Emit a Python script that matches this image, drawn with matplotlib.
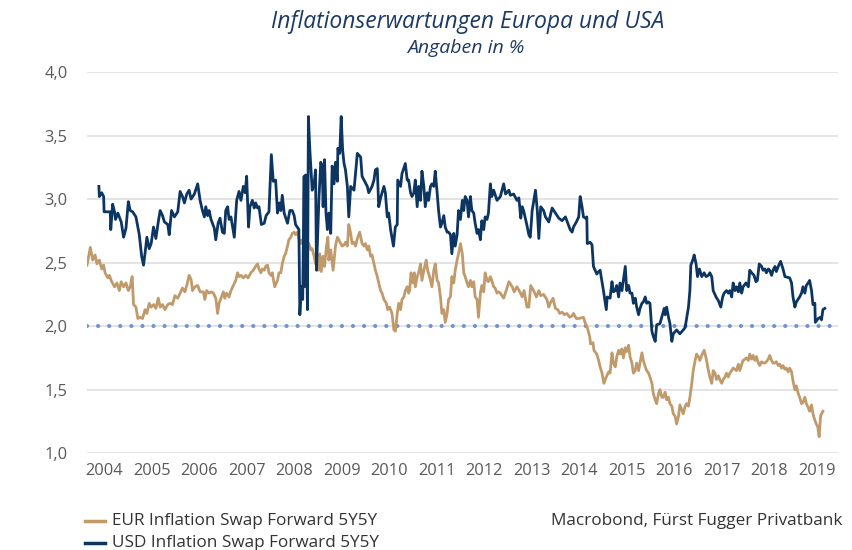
#!/usr/bin/env python3
# -*- coding: utf-8 -*-
"""
Inflationserwartungen Europa und USA - 5Y5Y inflation swap forwards
"""

import matplotlib
matplotlib.use("Agg")
import matplotlib.pyplot as plt

############################## Data ##################################
# values (decimal years, percent)
usd_years = [
    2004.39, 2004.40, 2004.45, 2004.49, 2004.50, 2004.63, 2004.64, 2004.68, 2004.72, 2004.74,
    2004.79, 2004.82, 2004.86, 2004.91, 2004.96, 2005.01, 2005.05, 2005.10, 2005.17, 2005.24,
    2005.29, 2005.33, 2005.37, 2005.40, 2005.45, 2005.49, 2005.54, 2005.59, 2005.64, 2005.68,
    2005.73, 2005.77, 2005.84, 2005.87, 2005.92, 2005.98, 2006.05, 2006.10, 2006.15, 2006.19,
    2006.24, 2006.29, 2006.33, 2006.40, 2006.47, 2006.52, 2006.57, 2006.61, 2006.64, 2006.68,
    2006.71, 2006.75, 2006.82, 2006.85, 2006.90, 2006.94, 2006.99, 2007.03, 2007.06, 2007.10,
    2007.13, 2007.17, 2007.24, 2007.29, 2007.34, 2007.38, 2007.43, 2007.47, 2007.50, 2007.54,
    2007.57, 2007.62, 2007.66, 2007.69, 2007.73, 2007.76, 2007.81, 2007.87, 2007.91, 2007.97,
    2008.02, 2008.06, 2008.11, 2008.15, 2008.19, 2008.22, 2008.25, 2008.29, 2008.36, 2008.41,
    2008.46, 2008.50, 2008.53, 2008.60, 2008.62, 2008.65, 2008.68, 2008.71, 2008.72, 2008.74,
    2008.78, 2008.80, 2008.83, 2008.88, 2008.92, 2008.95, 2008.97, 2009.02, 2009.06, 2009.09,
    2009.11, 2009.14, 2009.17, 2009.20, 2009.23, 2009.27, 2009.30, 2009.34, 2009.37, 2009.41,
    2009.42, 2009.46, 2009.49, 2009.52, 2009.55, 2009.58, 2009.62, 2009.65, 2009.69, 2009.76,
    2009.83, 2009.90, 2009.93, 2009.97, 2010.04, 2010.07, 2010.14, 2010.18, 2010.21, 2010.25,
    2010.28, 2010.32, 2010.39, 2010.42, 2010.46, 2010.49, 2010.53, 2010.59, 2010.63, 2010.67,
    2010.68, 2010.74, 2010.77, 2010.84, 2010.88, 2010.91, 2010.95, 2010.98, 2011.02, 2011.05,
    2011.09, 2011.12, 2011.16, 2011.19, 2011.23, 2011.26, 2011.30, 2011.33, 2011.37, 2011.40,
    2011.44, 2011.47, 2011.51, 2011.54, 2011.58, 2011.61, 2011.65, 2011.68, 2011.72, 2011.75,
    2011.79, 2011.82, 2011.86, 2011.89, 2011.93, 2011.96, 2012.00, 2012.04, 2012.07, 2012.10,
    2012.14, 2012.17, 2012.21, 2012.24, 2012.28, 2012.31, 2012.35, 2012.38, 2012.42, 2012.45,
    2012.49, 2012.52, 2012.56, 2012.59, 2012.63, 2012.66, 2012.70, 2012.77, 2012.84, 2012.91,
    2012.95, 2013.02, 2013.05, 2013.12, 2013.19, 2013.23, 2013.27, 2013.30, 2013.33, 2013.39,
    2013.44, 2013.47, 2013.51, 2013.58, 2013.62, 2013.65, 2013.69, 2013.75, 2013.79, 2013.86,
    2013.93, 2014.00, 2014.07, 2014.14, 2014.21, 2014.25, 2014.31, 2014.35, 2014.38, 2014.44,
    2014.49, 2014.52, 2014.56, 2014.59, 2014.63, 2014.66, 2014.67, 2014.73, 2014.77, 2014.80,
    2014.87, 2014.91, 2014.94, 2015.01, 2015.07, 2015.09, 2015.15, 2015.19, 2015.22, 2015.26,
    2015.29, 2015.33, 2015.36, 2015.40, 2015.43, 2015.47, 2015.50, 2015.54, 2015.57, 2015.61,
    2015.64, 2015.68, 2015.71, 2015.75, 2015.78, 2015.82, 2015.85, 2015.89, 2015.92, 2015.96,
    2015.99, 2016.03, 2016.06, 2016.10, 2016.13, 2016.20, 2016.26, 2016.29, 2016.31, 2016.34,
    2016.38, 2016.41, 2016.45, 2016.48, 2016.55, 2016.62, 2016.69, 2016.73, 2016.80, 2016.83,
    2016.85, 2016.89, 2016.92, 2016.96, 2016.99, 2017.03, 2017.08, 2017.13, 2017.17, 2017.22,
    2017.25, 2017.29, 2017.32, 2017.38, 2017.43, 2017.48, 2017.52, 2017.55, 2017.60, 2017.64,
    2017.67, 2017.71, 2017.74, 2017.78, 2017.81, 2017.85, 2017.88, 2017.92, 2017.95, 2018.01,
    2018.06, 2018.09, 2018.13, 2018.18, 2018.22, 2018.25, 2018.29, 2018.34, 2018.37, 2018.41,
    2018.44, 2018.48, 2018.51, 2018.55, 2018.58, 2018.62, 2018.65, 2018.69, 2018.74, 2018.79,
    2018.83, 2018.93, 2018.97, 2019.00, 2019.04, 2019.07, 2019.14, 2019.18, 2019.21, 2019.25,
    2019.28, 2019.32, 2019.35, 2019.39, 2019.42, 2019.46, 2019.47, 2019.53, 2019.58, 2019.60,
    2019.63, 2019.67,
]
usd_values = [
    3.10, 3.02, 3.05, 3.02, 2.90, 2.90, 2.76, 2.96, 2.90, 2.84,
    2.89, 2.86, 2.82, 2.70, 2.77, 2.98, 2.91, 2.90, 2.86, 2.72,
    2.55, 2.48, 2.60, 2.70, 2.61, 2.65, 2.78, 2.69, 2.82, 2.91,
    2.87, 2.82, 2.80, 2.72, 2.91, 2.86, 2.90, 3.06, 3.02, 2.97,
    3.04, 3.07, 3.00, 3.04, 3.12, 2.99, 2.91, 2.86, 2.94, 2.87,
    2.91, 2.84, 2.77, 2.68, 2.81, 2.85, 2.74, 2.73, 2.91, 2.94,
    2.84, 2.86, 2.70, 2.99, 3.06, 2.99, 3.10, 3.05, 3.18, 2.78,
    2.94, 2.99, 2.93, 2.97, 2.93, 2.94, 2.80, 2.81, 2.87, 2.90,
    3.35, 3.14, 3.15, 2.89, 2.97, 2.91, 3.03, 2.89, 2.81, 2.91,
    2.91, 2.87, 2.80, 2.76, 2.09, 2.31, 2.21, 3.18, 2.31, 3.19,
    2.13, 3.65, 3.39, 3.07, 3.12, 3.23, 2.44, 2.99, 3.29, 3.26,
    2.94, 3.31, 2.89, 2.76, 2.89, 2.73, 3.26, 3.12, 3.29, 3.14,
    3.40, 3.36, 3.65, 3.39, 3.28, 3.23, 3.10, 2.86, 3.10, 3.07,
    3.36, 3.33, 3.18, 3.15, 3.10, 3.05, 3.10, 3.15, 3.23, 3.24,
    2.94, 3.01, 3.10, 3.05, 2.86, 2.89, 2.76, 2.63, 2.78, 2.80,
    3.15, 3.10, 3.20, 3.28, 3.15, 3.15, 3.05, 3.02, 3.05, 3.15,
    2.94, 3.10, 2.99, 3.22, 3.10, 2.94, 3.05, 2.99, 3.10, 3.12,
    3.10, 3.22, 3.05, 2.91, 2.78, 2.81, 2.87, 2.78, 2.74, 2.74,
    2.72, 2.57, 2.73, 2.63, 2.72, 2.91, 2.84, 2.99, 2.91, 3.02,
    2.99, 2.86, 3.02, 2.91, 2.89, 2.81, 2.73, 2.76, 2.68, 2.83,
    2.76, 2.86, 2.84, 2.89, 3.12, 3.02, 3.07, 2.99, 3.02, 3.12,
    3.04, 3.07, 3.03, 3.04, 2.99, 3.01, 2.85, 2.94, 2.91, 2.81,
    2.72, 2.70, 2.91, 3.07, 2.90, 2.69, 2.94, 2.91, 2.86, 2.82,
    2.93, 2.89, 2.85, 2.83, 2.86, 2.82, 2.76, 2.74, 2.78, 2.82,
    2.86, 3.02, 2.94, 2.86, 2.85, 2.86, 2.65, 2.66, 2.64, 2.47,
    2.41, 2.43, 2.44, 2.28, 2.13, 2.23, 2.22, 2.35, 2.27, 2.28,
    2.32, 2.23, 2.34, 2.28, 2.36, 2.47, 2.28, 2.32, 2.26, 2.26,
    2.18, 2.22, 2.15, 2.09, 2.14, 2.18, 2.19, 2.23, 2.18, 2.19,
    2.18, 1.96, 1.92, 1.88, 2.01, 2.02, 2.10, 2.14, 2.09, 2.15,
    2.07, 2.02, 1.88, 1.94, 1.97, 1.94, 1.97, 1.99, 2.15, 2.28,
    2.48, 2.52, 2.56, 2.49, 2.39, 2.45, 2.39, 2.42, 2.39, 2.40,
    2.42, 2.39, 2.28, 2.23, 2.20, 2.15, 2.23, 2.26, 2.28, 2.26,
    2.28, 2.23, 2.34, 2.28, 2.31, 2.27, 2.34, 2.26, 2.31, 2.34,
    2.31, 2.44, 2.42, 2.40, 2.35, 2.36, 2.49, 2.47, 2.44, 2.45,
    2.42, 2.45, 2.44, 2.40, 2.44, 2.47, 2.43, 2.47, 2.51, 2.45,
    2.39, 2.38, 2.34, 2.23, 2.15, 2.19, 2.23, 2.26, 2.31, 2.26,
    2.32, 2.34, 2.36, 2.28, 2.17, 2.18, 2.03, 2.06, 2.07, 2.05,
    2.13, 2.14,
]

eur_years = [
    2004.14, 2004.21, 2004.26, 2004.31, 2004.35, 2004.40, 2004.45, 2004.49, 2004.52, 2004.58,
    2004.61, 2004.66, 2004.72, 2004.77, 2004.82, 2004.86, 2004.91, 2004.96, 2005.01, 2005.05,
    2005.09, 2005.12, 2005.17, 2005.21, 2005.26, 2005.31, 2005.36, 2005.40, 2005.45, 2005.49,
    2005.54, 2005.59, 2005.64, 2005.68, 2005.73, 2005.78, 2005.84, 2005.89, 2005.94, 2005.99,
    2006.05, 2006.10, 2006.15, 2006.20, 2006.24, 2006.29, 2006.33, 2006.36, 2006.41, 2006.47,
    2006.52, 2006.59, 2006.62, 2006.66, 2006.71, 2006.76, 2006.80, 2006.85, 2006.89, 2006.92,
    2006.97, 2007.01, 2007.04, 2007.08, 2007.13, 2007.17, 2007.22, 2007.27, 2007.31, 2007.34,
    2007.38, 2007.43, 2007.48, 2007.53, 2007.59, 2007.64, 2007.69, 2007.73, 2007.76, 2007.80,
    2007.83, 2007.87, 2007.90, 2007.94, 2007.97, 2008.01, 2008.04, 2008.09, 2008.15, 2008.18,
    2008.22, 2008.25, 2008.29, 2008.32, 2008.36, 2008.39, 2008.43, 2008.46, 2008.50, 2008.53,
    2008.57, 2008.60, 2008.64, 2008.67, 2008.71, 2008.74, 2008.78, 2008.81, 2008.85, 2008.88,
    2008.92, 2008.95, 2008.99, 2009.01, 2009.04, 2009.07, 2009.11, 2009.14, 2009.18, 2009.21,
    2009.23, 2009.27, 2009.32, 2009.37, 2009.41, 2009.44, 2009.48, 2009.51, 2009.55, 2009.58,
    2009.62, 2009.65, 2009.69, 2009.72, 2009.76, 2009.79, 2009.84, 2009.88, 2009.93, 2009.97,
    2010.00, 2010.04, 2010.07, 2010.11, 2010.14, 2010.18, 2010.21, 2010.25, 2010.28, 2010.32,
    2010.35, 2010.39, 2010.44, 2010.47, 2010.51, 2010.56, 2010.60, 2010.63, 2010.67, 2010.70,
    2010.74, 2010.77, 2010.81, 2010.84, 2010.88, 2010.91, 2010.93, 2010.96, 2011.00, 2011.03,
    2011.05, 2011.09, 2011.12, 2011.16, 2011.19, 2011.23, 2011.28, 2011.31, 2011.35, 2011.40,
    2011.44, 2011.47, 2011.51, 2011.54, 2011.58, 2011.61, 2011.65, 2011.68, 2011.72, 2011.75,
    2011.79, 2011.82, 2011.86, 2011.89, 2011.93, 2011.96, 2012.00, 2012.04, 2012.07, 2012.10,
    2012.14, 2012.17, 2012.21, 2012.24, 2012.28, 2012.31, 2012.35, 2012.38, 2012.42, 2012.45,
    2012.49, 2012.52, 2012.56, 2012.59, 2012.63, 2012.66, 2012.70, 2012.73, 2012.77, 2012.80,
    2012.84, 2012.91, 2012.98, 2013.02, 2013.09, 2013.13, 2013.19, 2013.25, 2013.30, 2013.34,
    2013.40, 2013.44, 2013.48, 2013.54, 2013.60, 2013.65, 2013.69, 2013.75, 2013.82, 2013.86,
    2013.89, 2013.95, 2014.00, 2014.05, 2014.09, 2014.14, 2014.19, 2014.24, 2014.30, 2014.35,
    2014.38, 2014.44, 2014.49, 2014.59, 2014.63, 2014.67, 2014.72, 2014.74, 2014.79, 2014.81,
    2014.87, 2014.91, 2014.94, 2014.98, 2015.02, 2015.07, 2015.12, 2015.15, 2015.19, 2015.22,
    2015.26, 2015.29, 2015.33, 2015.36, 2015.40, 2015.43, 2015.47, 2015.50, 2015.54, 2015.57,
    2015.61, 2015.64, 2015.68, 2015.71, 2015.75, 2015.78, 2015.82, 2015.85, 2015.89, 2015.92,
    2015.96, 2015.99, 2016.03, 2016.06, 2016.10, 2016.13, 2016.17, 2016.20, 2016.24, 2016.27,
    2016.31, 2016.34, 2016.38, 2016.41, 2016.45, 2016.48, 2016.52, 2016.55, 2016.59, 2016.62,
    2016.66, 2016.69, 2016.73, 2016.76, 2016.80, 2016.83, 2016.87, 2016.90, 2016.94, 2016.97,
    2017.01, 2017.04, 2017.08, 2017.13, 2017.17, 2017.22, 2017.25, 2017.29, 2017.32, 2017.36,
    2017.39, 2017.43, 2017.46, 2017.50, 2017.53, 2017.57, 2017.60, 2017.64, 2017.67, 2017.71,
    2017.74, 2017.78, 2017.81, 2017.85, 2017.88, 2017.92, 2017.95, 2017.99, 2018.02, 2018.06,
    2018.09, 2018.13, 2018.16, 2018.20, 2018.23, 2018.27, 2018.30, 2018.34, 2018.37, 2018.41,
    2018.44, 2018.48, 2018.51, 2018.55, 2018.58, 2018.62, 2018.65, 2018.69, 2018.72, 2018.76,
    2018.79, 2018.83, 2018.86, 2018.90, 2018.93, 2018.97, 2019.00, 2019.04, 2019.07, 2019.11,
    2019.14, 2019.18, 2019.21, 2019.25, 2019.28, 2019.32, 2019.35, 2019.39, 2019.42, 2019.46,
    2019.49, 2019.52, 2019.55, 2019.58, 2019.60, 2019.63,
]
eur_values = [
    2.48, 2.62, 2.52, 2.56, 2.49, 2.52, 2.45, 2.48, 2.42, 2.38,
    2.40, 2.35, 2.31, 2.34, 2.28, 2.35, 2.31, 2.34, 2.28, 2.31,
    2.39, 2.17, 2.15, 2.06, 2.07, 2.06, 2.13, 2.10, 2.18, 2.15,
    2.17, 2.14, 2.22, 2.15, 2.17, 2.13, 2.17, 2.18, 2.17, 2.24,
    2.22, 2.26, 2.30, 2.27, 2.32, 2.40, 2.37, 2.28, 2.31, 2.32,
    2.27, 2.27, 2.21, 2.28, 2.26, 2.27, 2.26, 2.22, 2.10, 2.18,
    2.23, 2.27, 2.22, 2.26, 2.23, 2.28, 2.32, 2.36, 2.42, 2.39,
    2.40, 2.38, 2.40, 2.38, 2.42, 2.44, 2.47, 2.49, 2.45, 2.42,
    2.45, 2.44, 2.47, 2.48, 2.42, 2.40, 2.42, 2.31, 2.36, 2.42,
    2.42, 2.49, 2.55, 2.57, 2.63, 2.68, 2.70, 2.73, 2.74, 2.72,
    2.74, 2.69, 2.65, 2.68, 2.63, 2.66, 2.63, 2.65, 2.60, 2.61,
    2.55, 2.49, 2.52, 2.44, 2.57, 2.43, 2.55, 2.47, 2.63, 2.70,
    2.52, 2.60, 2.44, 2.63, 2.70, 2.68, 2.65, 2.63, 2.64, 2.66,
    2.63, 2.80, 2.73, 2.65, 2.66, 2.63, 2.70, 2.74, 2.65, 2.63,
    2.65, 2.60, 2.63, 2.55, 2.56, 2.49, 2.44, 2.39, 2.34, 2.28,
    2.26, 2.21, 2.18, 2.13, 2.15, 2.10, 1.97, 1.96, 2.10, 2.18,
    2.13, 2.21, 2.23, 2.28, 2.31, 2.26, 2.28, 2.42, 2.34, 2.42,
    2.31, 2.39, 2.42, 2.49, 2.36, 2.44, 2.52, 2.44, 2.39, 2.31,
    2.44, 2.49, 2.36, 2.34, 2.23, 2.10, 2.13, 2.03, 2.10, 2.21,
    2.23, 2.39, 2.34, 2.44, 2.52, 2.57, 2.65, 2.57, 2.42, 2.39,
    2.34, 2.31, 2.36, 2.31, 2.35, 2.23, 2.21, 2.07, 2.26, 2.32,
    2.27, 2.42, 2.36, 2.35, 2.39, 2.36, 2.31, 2.30, 2.26, 2.27,
    2.26, 2.22, 2.30, 2.35, 2.31, 2.27, 2.31, 2.27, 2.23, 2.28,
    2.15, 2.15, 2.32, 2.28, 2.23, 2.28, 2.24, 2.25, 2.21, 2.15,
    2.18, 2.22, 2.14, 2.13, 2.10, 2.11, 2.09, 2.10, 2.07, 2.08,
    2.10, 2.06, 2.06, 2.07, 2.02, 1.99, 1.92, 1.86, 1.87, 1.81,
    1.78, 1.73, 1.68, 1.63, 1.55, 1.60, 1.64, 1.63, 1.79, 1.71,
    1.68, 1.76, 1.81, 1.78, 1.82, 1.75, 1.83, 1.80, 1.85, 1.76,
    1.71, 1.63, 1.65, 1.71, 1.65, 1.71, 1.79, 1.73, 1.68, 1.65,
    1.63, 1.60, 1.55, 1.47, 1.42, 1.39, 1.47, 1.50, 1.44, 1.44,
    1.48, 1.42, 1.44, 1.39, 1.37, 1.31, 1.29, 1.23, 1.29, 1.38,
    1.34, 1.31, 1.37, 1.39, 1.37, 1.44, 1.55, 1.65, 1.73, 1.78,
    1.76, 1.73, 1.77, 1.81, 1.75, 1.65, 1.60, 1.55, 1.65, 1.63,
    1.58, 1.61, 1.58, 1.55, 1.58, 1.60, 1.63, 1.60, 1.63, 1.65,
    1.67, 1.66, 1.65, 1.70, 1.65, 1.70, 1.73, 1.74, 1.75, 1.73,
    1.78, 1.74, 1.77, 1.73, 1.76, 1.71, 1.69, 1.72, 1.71, 1.71,
    1.72, 1.74, 1.77, 1.73, 1.71, 1.71, 1.72, 1.69, 1.70, 1.67,
    1.69, 1.66, 1.67, 1.64, 1.67, 1.64, 1.57, 1.50, 1.53, 1.47,
    1.44, 1.39, 1.40, 1.44, 1.39, 1.36, 1.33, 1.38, 1.31, 1.26,
    1.23, 1.21, 1.13, 1.29, 1.31, 1.33,
]

years = [2004, 2005, 2006, 2007, 2008, 2009, 2010, 2011, 2012, 2013, 2014, 2015, 2016, 2017, 2018, 2019]
y_ticks = [1.0, 1.5, 2.0, 2.5, 3.0, 3.5, 4.0]
y_labels = ["1,0", "1,5", "2,0", "2,5", "3,0", "3,5", "4,0"]
target_level = 2.0

eur_label = "EUR Inflation Swap Forward 5Y5Y"
usd_label = "USD Inflation Swap Forward 5Y5Y"
source = "Macrobond, Fürst Fugger Privatbank"

############################## Style ##################################
plt.rcParams['font.family'] = ['Open Sans', 'DejaVu Sans']
navy = '#0c3562'
tan = '#c09a6a'
title_col = '#1c3a63'
grey_txt = '#595959'

fig = plt.figure(figsize=(8.53, 5.5), dpi=100)
ax = fig.add_axes([0.102, 0.176, 0.880, 0.693])

for y in y_ticks:
    ax.axhline(y, color='#dcdcdc', lw=1.1, zorder=1)
ax.axhline(target_level, color='#7094cf', lw=3.0, ls=(0, (0.01, 2.65)),
           dash_capstyle='round', zorder=2)

ax.plot(eur_years, eur_values, color=tan, lw=2.0, zorder=3, solid_joinstyle='round')
ax.plot(usd_years, usd_values, color=navy, lw=2.0, zorder=4, solid_joinstyle='round')

ax.set_xlim(2004.14, 2019.94)
ax.set_ylim(1.0, 4.0)
ax.set_yticks(y_ticks)
ax.set_yticklabels(y_labels)
ax.set_xticks([yr + 0.5 for yr in years])
ax.set_xticklabels([str(yr) for yr in years])
ax.tick_params(length=0, labelsize=11.8, colors=grey_txt)
ax.tick_params(axis='y', pad=14)
ax.tick_params(axis='x', pad=7)
for s in ax.spines.values():
    s.set_visible(False)

fig.text(0.548, 0.960, "Inflationserwartungen Europa und USA", ha='center', va='center',
         fontsize=16.5, style='italic', color=title_col)
fig.text(0.546, 0.912, "Angaben in %", ha='center', va='center',
         fontsize=14, style='italic', color=title_col)

# legend drawn by hand at the bottom left
for i, (lab, col) in enumerate([(eur_label, tan), (usd_label, navy)]):
    yy = 0.053 - i * 0.040
    fig.add_artist(plt.Line2D([0.100, 0.123], [yy, yy], color=col, lw=2.5,
                              transform=fig.transFigure))
    fig.text(0.131, yy, lab, ha='left', va='center', fontsize=12.3, color='#333333')
fig.text(0.988, 0.053, source, ha='right', va='center', fontsize=12.3, color='#333333')

fig.savefig('out.png', dpi=100)
